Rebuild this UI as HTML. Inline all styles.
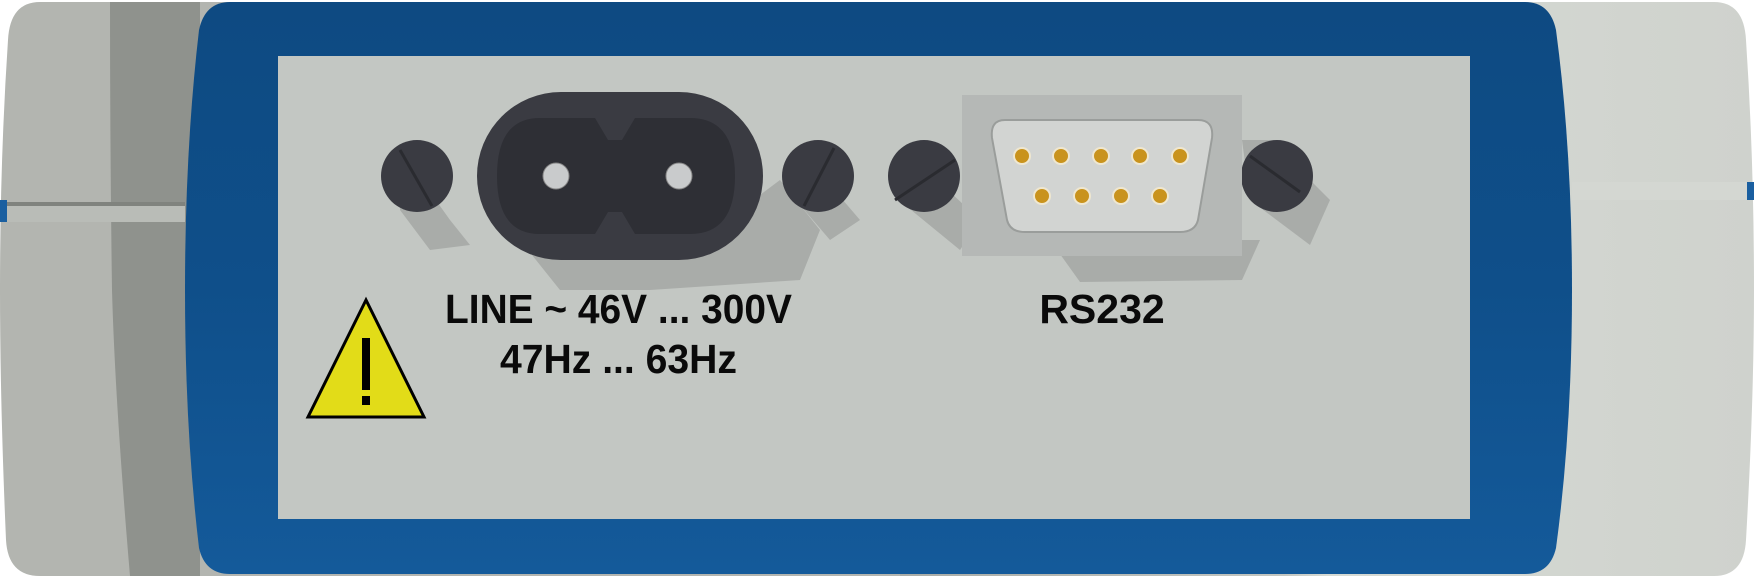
<!DOCTYPE html>
<html><head><meta charset="utf-8"><style>html,body{margin:0;padding:0;background:#fff}svg{display:block}</style></head>
<body>
<svg width="1754" height="576" viewBox="0 0 1754 576" xmlns="http://www.w3.org/2000/svg">
<defs>
<linearGradient id="bodyL" x1="0" x2="1" y1="0" y2="0">
<stop offset="0" stop-color="#b6b8b3"/><stop offset="0.55" stop-color="#a9aba6"/><stop offset="0.6" stop-color="#8f928d"/><stop offset="1" stop-color="#8d908b"/></linearGradient>
<linearGradient id="bodyR" x1="0" x2="1" y1="0" y2="0">
<stop offset="0" stop-color="#a9aca7"/><stop offset="0.45" stop-color="#c3c6c1"/><stop offset="0.5" stop-color="#d6dad4"/><stop offset="1" stop-color="#cfd2cd"/></linearGradient>
<linearGradient id="blue" x1="0" x2="0" y1="0" y2="1">
<stop offset="0" stop-color="#0e4a82"/><stop offset="0.5" stop-color="#0f4f8a"/><stop offset="1" stop-color="#145a9a"/></linearGradient>
</defs>
<path d="M40 2 H900 V576 H40 Q8 576 6 540 Q0 400 0 290 Q0 160 8 40 Q10 2 40 2 Z" fill="#b3b5b0"/>
<rect x="0" y="0" width="330" height="576" fill="url(#bodyL)" opacity="0"/>
<path d="M110 2 H200 V576 H130 Q115 400 112 290 Q110 150 110 2 Z" fill="#8f928d"/>
<path d="M900 2 H1714 Q1744 2 1746 40 Q1754 160 1754 290 Q1754 400 1746 540 Q1744 576 1714 576 H900 Z" fill="url(#bodyR)"/>
<rect x="0" y="202" width="185" height="4" fill="#80837e"/>
<rect x="0" y="206" width="185" height="16" fill="#b9bcb7"/>
<rect x="0" y="200" width="7" height="22" fill="#1a5fa0"/>
<rect x="1572" y="182" width="180" height="18" fill="#d4d7d2"/>
<rect x="1747" y="182" width="7" height="18" fill="#1a5fa0"/>
<path d="M230 2 H1525 Q1550 2 1556 30 Q1572 150 1572 290 Q1572 430 1556 548 Q1550 574 1525 574 H230 Q205 574 199 548 Q185 430 185 290 Q185 150 199 30 Q205 2 230 2 Z" fill="url(#blue)"/>
<rect x="278" y="56" width="1192" height="463" fill="#c3c7c3"/>
<g fill="#a9aca9">
<path d="M400 150 L450 220 L470 245 L430 250 L400 210 Z"/>
<path d="M520 240 L700 240 L780 180 L820 230 L800 280 L650 290 L560 290 Z"/>
<path d="M800 150 L860 220 L830 240 L800 205 Z"/>
<path d="M905 150 L980 220 L960 250 L905 205 Z"/>
<path d="M1050 240 L1260 240 L1242 280 L1080 282 Z"/>
<path d="M1242 140 L1270 140 L1330 200 L1310 245 L1250 200 Z"/>
</g>
<g>
<circle cx="417" cy="176" r="36" fill="#3a3b42"/><line x1="400" y1="150" x2="432" y2="206" stroke="#2a2b30" stroke-width="3"/>
<circle cx="818" cy="176" r="36" fill="#3a3b42"/><line x1="834" y1="148" x2="804" y2="206" stroke="#2a2b30" stroke-width="3"/>
<circle cx="924" cy="176" r="36" fill="#3a3b42"/><line x1="895" y1="200" x2="955" y2="160" stroke="#2a2b30" stroke-width="3"/>
<circle cx="1277" cy="176" r="36" fill="#3a3b42"/><line x1="1250" y1="156" x2="1300" y2="192" stroke="#2a2b30" stroke-width="3"/>
</g>
<rect x="477" y="92" width="286" height="168" rx="84" fill="#3a3b42"/>
<path d="M540 118 H595 L608 140 H622 L635 118 H690 Q735 118 735 176 Q735 234 690 234 H635 L622 212 H608 L595 234 H540 Q497 234 497 176 Q497 118 540 118 Z" fill="#2e2f35"/>
<circle cx="556" cy="176" r="13" fill="#c9cbcc" stroke="#888" stroke-width="1"/>
<circle cx="679" cy="176" r="13" fill="#c9cbcc" stroke="#888" stroke-width="1"/>
<rect x="962" y="95" width="280" height="161" fill="#b5b8b6"/>
<path d="M1005 120 H1198 Q1214 120 1212 138 L1198 220 Q1195 232 1180 232 H1025 Q1010 232 1007 220 L992 138 Q990 120 1005 120 Z" fill="#d2d4d2" stroke="#9a9d9b" stroke-width="2"/>
<g fill="#c9931d" stroke="#efe7d0" stroke-width="2">
<circle cx="1022" cy="156" r="8"/><circle cx="1061" cy="156" r="8"/><circle cx="1101" cy="156" r="8"/><circle cx="1140" cy="156" r="8"/><circle cx="1180" cy="156" r="8"/>
<circle cx="1042" cy="196" r="8"/><circle cx="1082" cy="196" r="8"/><circle cx="1121" cy="196" r="8"/><circle cx="1160" cy="196" r="8"/>
</g>
<g font-family="Liberation Sans, Arial, sans-serif" font-weight="bold" font-size="41" fill="#0a0a0a">
<text x="445" y="323" textLength="347" lengthAdjust="spacingAndGlyphs">LINE ~ 46V ... 300V</text>
<text x="500" y="373" textLength="237" lengthAdjust="spacingAndGlyphs">47Hz ... 63Hz</text>
<text x="1102" y="323" text-anchor="middle">RS232</text>
</g>
<polygon points="366,300 308,417 424,417" fill="#e2dc18" stroke="#000" stroke-width="3"/>
<rect x="362" y="338" width="8" height="52" fill="#000"/>
<rect x="362" y="396" width="8" height="9" fill="#000"/>
</svg>
</body></html>
